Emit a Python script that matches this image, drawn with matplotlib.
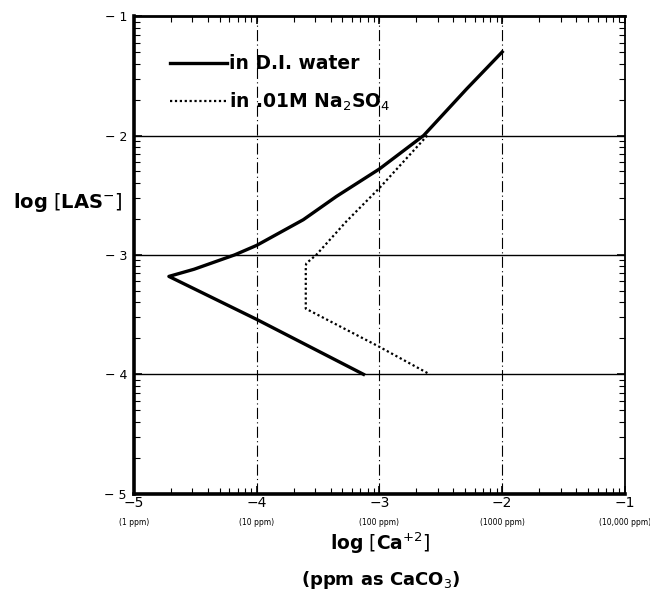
import numpy as np
import matplotlib
matplotlib.use("Agg")
import matplotlib.pyplot as plt
from matplotlib.ticker import FixedLocator
from matplotlib.transforms import blended_transform_factory

# Data: log[Ca+2] vs log[LAS-]
di_x = [-2.00, -2.29, -2.64, -3.00, -3.35, -3.62, -4.00, -4.18, -4.51, -4.715, -4.00, -3.13]
di_y = [-1.30, -1.61, -2.00, -2.28, -2.51, -2.705, -2.92, -3.00, -3.12, -3.18, -3.54, -4.00]

na_x = [-2.61, -3.00, -3.27, -3.515, -3.595, -3.60, -3.60, -3.00, -2.59]
na_y = [-2.00, -2.44, -2.72, -3.00, -3.07, -3.09, -3.45, -3.77, -4.00]

x_ticks = [-5, -4, -3, -2, -1]
x_ppm = ["(1 ppm)", "(10 ppm)", "(100 ppm)", "(1000 ppm)", "(10,000 ppm)"]
y_ticks = [-5, -4, -3, -2, -1]

plt.rcParams['font.family'] = ['DejaVu Sans']
fig = plt.figure(figsize=(6.5, 5.97), dpi=100)
ax = fig.add_axes([0.206, 0.173, 0.7555, 0.800])

ax.set_xlim(-5, -1)
ax.set_ylim(-5, -1)

# grid
for v in [-2, -3, -4]:
    ax.axhline(v, color='black', lw=1.0, zorder=1)
    ax.axvline(v, color='black', lw=0.8, ls=(0, (10, 3, 1, 3)), zorder=1)

ax.plot(di_x, di_y, color='black', lw=2.4, solid_joinstyle='round', zorder=3,
        label='in D.I. water')
ax.plot(na_x, na_y, color='black', lw=1.6, ls=(0, (1, 1.2)), zorder=3,
        label='in .01M Na$_2$SO$_4$')

leg = ax.legend(loc='upper left', bbox_to_anchor=(0.04, 0.955), frameon=False,
                handlelength=3.0, handletextpad=0.15, labelspacing=0.9,
                prop={'weight': 'bold', 'size': 13.5})

# ticks
ax.xaxis.set_major_locator(FixedLocator(x_ticks))
ax.yaxis.set_major_locator(FixedLocator(y_ticks))
minors = [d + np.log10(k) for d in range(-5, -1) for k in range(2, 10)]
ax.xaxis.set_minor_locator(FixedLocator(minors))
ax.yaxis.set_minor_locator(FixedLocator(minors))
ax.tick_params(which='both', direction='in', top=True, right=True)
ax.tick_params(which='major', length=6, width=1.2)
ax.tick_params(which='minor', length=4, width=0.8)
ax.tick_params(axis='y', labelsize=9, pad=5)
ax.tick_params(axis='x', labelsize=10, pad=2)
ax.set_xticklabels([f"\u2212{abs(t)}" for t in x_ticks])
ax.set_yticklabels([f"\u2212 {abs(t)}" for t in y_ticks])

trans = blended_transform_factory(ax.transData, ax.transAxes)
for t, s in zip(x_ticks, x_ppm):
    ax.text(t, -0.05, s, transform=trans, ha='center', va='top', fontsize=5.5)

for side, w in [('left', 2.6), ('bottom', 2.6), ('top', 2.0), ('right', 1.3)]:
    ax.spines[side].set_linewidth(w)

fig.text(0.104, 0.66, r'$\mathbf{log}\ \left[\mathbf{LAS}^{-}\right]$', ha='center', va='center',
         fontsize=14)
fig.text(0.585, 0.09, r'$\mathbf{log}\ \left[\mathbf{Ca}^{+2}\right]$', ha='center', va='center',
         fontsize=13.5)
fig.text(0.585, 0.028, '(ppm as CaCO$_3$)', ha='center', va='center', fontsize=13,
         fontweight='bold')

fig.savefig('out.png', dpi=100)
